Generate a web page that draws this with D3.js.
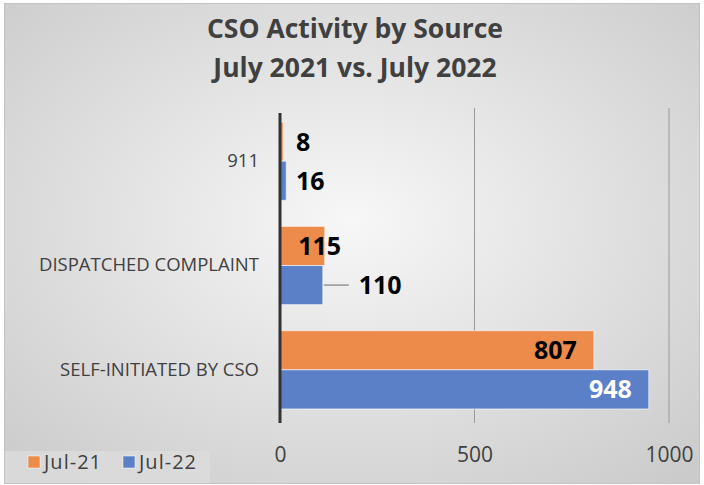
<!DOCTYPE html>
<html><head><meta charset="utf-8">
<script src="https://cdn.jsdelivr.net/npm/d3@7"></script>
<style>body{margin:0;background:#fff}svg{display:block}text{font-family:"Open Sans","Noto Sans",sans-serif}</style>
</head><body><svg id="c" width="704" height="485"></svg>
<script>
const categories = ["911", "DISPATCHED COMPLAINT", "SELF-INITIATED BY CSO"];
const seriesNames = ["Jul-21", "Jul-22"];
const jul21 = [8, 115, 807];
const jul22 = [16, 110, 948];
const tickValues = [0, 500, 1000];
const titleLines = ["CSO Activity by Source", "July 2021 vs. July 2022"];
const colors = ["#ED8B4A", "#5B80C8"];

const svg = d3.select("#c");
const defs = svg.append("defs");
const rg = defs.append("radialGradient").attr("id","bg").attr("cx","50%").attr("cy","45%").attr("r","75%");
rg.append("stop").attr("offset","0%").attr("stop-color","#f7f7f7");
rg.append("stop").attr("offset","100%").attr("stop-color","#c9c9c9");
svg.append("rect").attr("x",4.5).attr("y",3.5).attr("width",695).attr("height",480)
  .attr("fill","url(#bg)").attr("stroke","#c4c4c4").attr("stroke-width",1);

const x = d3.scaleLinear().domain([0,1000]).range([280,669]);
const y0 = d3.scaleBand().domain(categories).range([109,422]).paddingInner(0.25).paddingOuter(0.125);
const y1 = d3.scaleBand().domain(seriesNames).range([0,y0.bandwidth()]);

// title
svg.append("g").selectAll("text").data(titleLines).join("text")
  .attr("x",355).attr("y",(d,i)=>38+i*39).attr("text-anchor","middle")
  .attr("font-size",26.5).attr("font-weight","bold").attr("fill","#404040").text(d=>d);

// gridlines
svg.append("g").selectAll("line").data(tickValues.filter(v=>v>0)).join("line")
  .attr("x1",d=>x(d)).attr("x2",d=>x(d)).attr("y1",108).attr("y2",423)
  .attr("stroke","#999").attr("stroke-width",1);

// x axis labels via d3 axis
const xAxis = d3.axisBottom(x).tickValues(tickValues).tickSize(0).tickPadding(0).tickFormat(d3.format("d"));
const gx = svg.append("g").attr("transform","translate(0,462)").call(xAxis);
gx.select(".domain").remove();
gx.selectAll("text").attr("dy",0).attr("font-size",21).attr("fill","#404040").attr("font-family","'Open Sans',sans-serif");

// y axis labels
const yAxis = d3.axisLeft(y0).tickSize(0).tickPadding(0);
const gy = svg.append("g").attr("transform","translate(259,0)").call(yAxis);
gy.select(".domain").remove();
gy.selectAll("text").attr("font-size",18.5).attr("fill","#404040").attr("font-family","'Open Sans',sans-serif");

// bars
const data = categories.map((c,i)=>({cat:c, vals:[{s:seriesNames[0],v:jul21[i],k:0},{s:seriesNames[1],v:jul22[i],k:1}]}));
const grp = svg.append("g").selectAll("g").data(data).join("g").attr("transform",d=>`translate(0,${y0(d.cat)})`);
grp.selectAll("rect").data(d=>d.vals).join("rect")
  .attr("x",x(0)).attr("y",d=>y1(d.s)).attr("width",d=>x(d.v)-x(0)).attr("height",y1.bandwidth())
  .attr("fill",d=>colors[d.k]).attr("stroke","#ffffff").attr("stroke-opacity",0.6).attr("stroke-width",1);

// zero axis line
svg.append("line").attr("x1",x(0)).attr("x2",x(0)).attr("y1",113).attr("y2",423).attr("stroke","#333").attr("stroke-width",3);

// data labels
const lab = [];
data.forEach(d=>d.vals.forEach(v=>lab.push({cat:d.cat,...v})));
function labelPos(d){
  const yc = y0(d.cat)+y1(d.s)+y1.bandwidth()/2;
  if (d.v < 50) return {x:x(0)+16, y:yc, anchor:"start", fill:"#000"};
  if (d.cat==="DISPATCHED COMPLAINT" && d.k===0) return {x:x(d.v)-5, y:yc, anchor:"middle", fill:"#000"};
  if (d.cat==="DISPATCHED COMPLAINT" && d.k===1) return {x:x(d.v)+36, y:yc, anchor:"start", fill:"#000", leader:true};
  return {x:x(d.v)-17, y:yc, anchor:"end", fill:d.k===1?"#fff":"#000"};
}
const lg = svg.append("g");
lab.forEach(d=>{
  const p = labelPos(d);
  if (p.leader) lg.append("line").attr("x1",x(d.v)+1).attr("x2",x(d.v)+26).attr("y1",p.y).attr("y2",p.y).attr("stroke","#7f7f7f").attr("stroke-width",1.2);
  lg.append("text").attr("x",p.x).attr("y",p.y).attr("dy","0.36em").attr("text-anchor",p.anchor)
    .attr("font-size",25).attr("font-weight","bold").attr("fill",p.fill).text(d.v);
});

// legend
svg.append("rect").attr("x",5).attr("y",451).attr("width",205).attr("height",32).attr("fill","#dcdcdc").attr("opacity",0.8);
const lgItems = svg.append("g").selectAll("g").data(seriesNames).join("g")
  .attr("transform",(d,i)=>`translate(${28+i*95},462)`);
lgItems.append("rect").attr("x",0).attr("y",-6).attr("width",12).attr("height",12).attr("fill",(d,i)=>colors[i]).attr("stroke","#fff").attr("stroke-opacity",0.5);
lgItems.append("text").attr("x",16).attr("dy","0.36em").attr("font-size",20).attr("textLength",57).attr("lengthAdjust","spacing").attr("fill","#404040").text(d=>d);
</script></body></html>
